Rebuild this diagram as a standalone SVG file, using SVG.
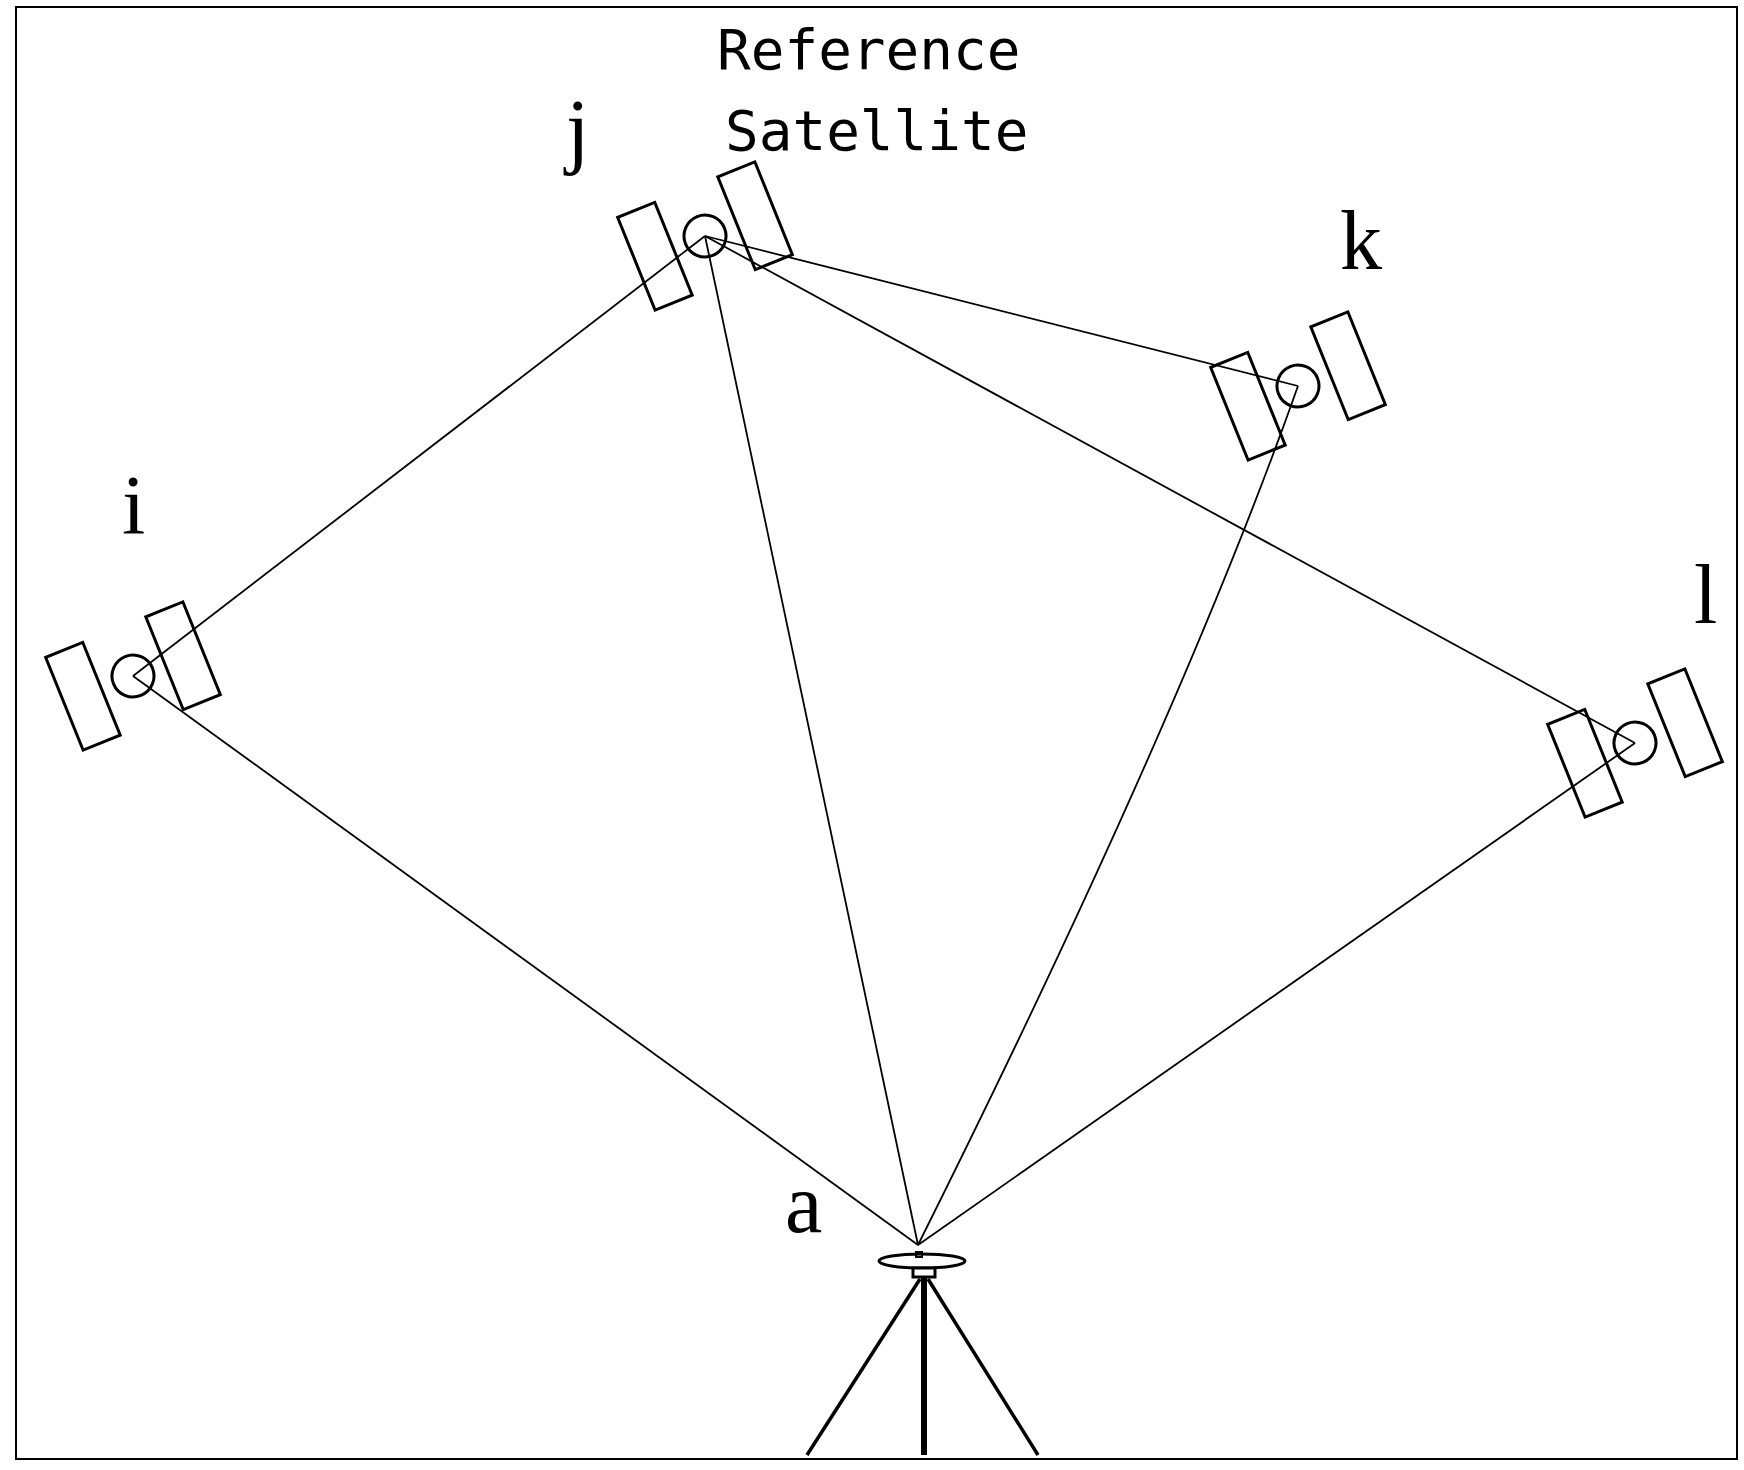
<svg xmlns="http://www.w3.org/2000/svg" width="1744" height="1470" viewBox="0 0 1744 1470">
<style>
.s{fill:none;stroke:#000;stroke-width:3}
.c{fill:none;stroke:#000;stroke-width:1.8}
.lbl{font-family:"Liberation Serif",serif;font-size:84px;fill:#000}
.ref{font-family:"DejaVu Sans Mono",monospace;font-size:56px;fill:#000}
</style>
<defs>
<g id="sat">
<rect class="s" x="-74" y="-50" width="40" height="100"/>
<rect class="s" x="34" y="-50" width="40" height="100"/>
<circle class="s" cx="0" cy="0" r="21"/>
</g>
</defs>
<rect x="0" y="0" width="1744" height="1470" fill="#fff"/>
<rect x="16" y="7" width="1721" height="1452" fill="none" stroke="#000" stroke-width="2"/>
<g id="connectors">
<line class="c" x1="705" y1="236" x2="133" y2="676"/>
<line class="c" x1="705" y1="236" x2="1298" y2="386"/>
<line class="c" x1="705" y1="236" x2="1635" y2="743"/>
<line class="c" x1="705" y1="236" x2="918" y2="1245"/>
<line class="c" x1="133" y1="676" x2="918" y2="1245"/>
<path class="c" d="M1298 386 Q1180 720 918 1245"/>
<line class="c" x1="1635" y1="743" x2="918" y2="1245"/>
</g>
<g id="sat-j"><use href="#sat" transform="translate(705,236) rotate(-22)"/></g>
<g id="sat-i"><use href="#sat" transform="translate(133,676) rotate(-22)"/></g>
<g id="sat-k"><use href="#sat" transform="translate(1298,386) rotate(-22)"/></g>
<g id="sat-l"><use href="#sat" transform="translate(1635,743) rotate(-22)"/></g>
<g id="receiver">
<ellipse cx="922" cy="1261" rx="43" ry="7" fill="#fff" stroke="#000" stroke-width="3"/>
<rect x="916" y="1252" width="6" height="5" fill="none" stroke="#000" stroke-width="2"/>
<rect x="913" y="1268" width="22" height="9" fill="#fff" stroke="#000" stroke-width="3"/>
<rect x="921" y="1277" width="6" height="178" fill="#000"/>
<line x1="920" y1="1279" x2="807" y2="1455" stroke="#000" stroke-width="3.5"/>
<line x1="928" y1="1279" x2="1038" y2="1455" stroke="#000" stroke-width="3.5"/>
</g>
<g id="labels">
<text class="ref" x="717" y="69">Reference</text>
<text class="ref" x="725" y="150">Satellite</text>
<text class="lbl" x="566" y="158">j</text>
<text class="lbl" x="1340" y="269">k</text>
<text class="lbl" x="122" y="534">i</text>
<text class="lbl" x="1694" y="623">l</text>
<text class="lbl" x="785" y="1232">a</text>
</g>
</svg>
